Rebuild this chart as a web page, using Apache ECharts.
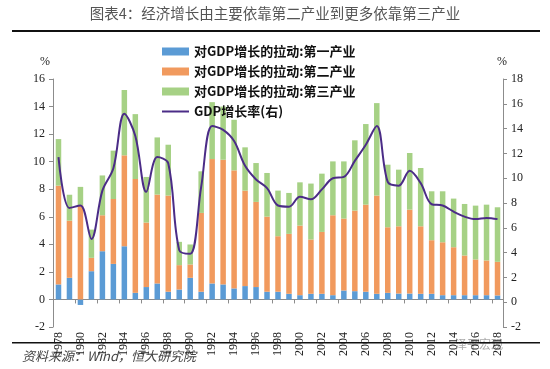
<!DOCTYPE html>
<html><head><meta charset="utf-8">
<script src="https://cdn.jsdelivr.net/npm/echarts@6/dist/echarts.min.js"></script>
<style>html,body{margin:0;padding:0;background:#fff}#c{width:550px;height:369px}</style>
</head><body><div id="c"></div>
<script>
const years = ['1978','1979','1980','1981','1982','1983','1984','1985','1986','1987','1988','1989','1990','1991','1992','1993','1994','1995','1996','1997','1998','1999','2000','2001','2002','2003','2004','2005','2006','2007','2008','2009','2010','2011','2012','2013','2014','2015','2016','2017','2018'];
const primary = [1.09,1.57,-0.4,2.05,3.5,2.58,3.86,0.48,0.9,1.16,0.56,0.72,1.57,0.56,1.16,1.09,0.8,0.97,0.9,0.56,0.56,0.41,0.31,0.41,0.41,0.31,0.65,0.6,0.56,0.41,0.48,0.43,0.43,0.41,0.41,0.31,0.31,0.31,0.31,0.31,0.29];
const secondary = [7.17,4.15,6.84,0.97,2.61,4.71,6.6,8.26,4.68,6.45,6.98,1.77,0.97,5.72,9.03,9.05,8.57,6.93,6.18,5.45,4.03,4.35,5.05,3.94,4.49,5.8,5.22,5.85,6.32,7.13,4.76,4.88,6.09,4.9,3.89,3.84,3.48,2.88,2.59,2.52,2.44];
const tertiary = [3.38,1.88,1.33,2.05,2.89,3.51,4.74,4.71,3.31,4.15,3.69,1.69,1.45,3.02,4.13,3.86,3.67,3.14,2.82,3.17,3.31,2.97,3.14,4.06,4.23,3.91,4.15,5.1,5.85,6.71,4.54,4.11,4.11,4.23,3.55,3.7,3.53,3.74,3.91,4.05,3.96];
const gdp = [11.7,7.6,7.8,5.1,9.0,10.8,15.2,13.4,8.9,11.7,11.2,4.2,3.9,9.3,14.2,13.9,13.0,11.0,9.9,9.2,7.8,7.7,8.5,8.3,9.1,10.0,10.1,11.4,12.7,14.2,9.7,9.4,10.6,9.6,7.9,7.8,7.3,6.9,6.7,6.8,6.7];
const names = ['对GDP增长的拉动:第一产业','对GDP增长的拉动:第二产业','对GDP增长的拉动:第三产业','GDP增长率(右)'];

const chart = echarts.init(document.getElementById('c'), null, {renderer:'canvas'});
const serif = 'Liberation Serif';
const axisColor = '#8c8c8c';
const barW = 5.5;
chart.setOption({
  animation:false,
  backgroundColor:'#fff',
  grid:{left:53,right:47,top:79,bottom:42},
  legend:{
    orient:'vertical', left:156, top:40, itemWidth:27, itemHeight:8, itemGap:7,
    textStyle:{fontFamily:'Noto Sans CJK SC', fontWeight:'bold', fontSize:13, color:'#111'},
    data:[{name:names[0],icon:'rect'},{name:names[1],icon:'rect'},{name:names[2],icon:'rect'},{name:names[3], itemStyle:{opacity:0}}]
  },
  xAxis:{
    type:'category', data:years, boundaryGap:true,
    axisLine:{onZero:true, lineStyle:{color:axisColor}},
    axisTick:{show:true, interval:1, length:4, lineStyle:{color:axisColor}},
    axisLabel:{interval:1, rotate:90, fontFamily:serif, fontSize:12, color:'#222', margin:5}
  },
  yAxis:[
    {type:'value', min:-2, max:16, interval:2, position:'left',
     axisLine:{show:true, lineStyle:{color:axisColor}}, axisTick:{show:true, length:4, lineStyle:{color:axisColor}},
     splitLine:{show:false}, axisLabel:{fontFamily:serif, fontSize:12, color:'#222', margin:8}},
    {type:'value', min:-2, max:18, interval:2, position:'right',
     axisLine:{show:true, lineStyle:{color:axisColor}}, axisTick:{show:true, length:4, lineStyle:{color:axisColor}},
     splitLine:{show:false}, axisLabel:{fontFamily:serif, fontSize:12, color:'#222', margin:8}}
  ],
  series:[
    {name:names[0], type:'bar', stack:'s', data:primary, barWidth:barW, itemStyle:{color:'#5B9BD5'}},
    {name:names[1], type:'bar', stack:'s', data:secondary, barWidth:barW, itemStyle:{color:'#F19A5E'}},
    {name:names[2], type:'bar', stack:'s', data:tertiary, barWidth:barW, itemStyle:{color:'#A6D185'}},
    {name:names[3], type:'line', yAxisIndex:1, data:gdp, smooth:0.35, symbol:'none', showSymbol:false, lineStyle:{color:'#4B2C87', width:2}, itemStyle:{color:'#4B2C87'}}
  ],
  graphic:{elements:[
    {type:'text', left:'center', top:6, style:{text:'图表4：经济增长由主要依靠第二产业到更多依靠第三产业', font:'14.5px "Noto Sans CJK SC"', fill:'#555'}},
    {type:'text', left:12, top:30, z:100, style:{text:' ', font:'1px sans-serif', width:528, height:2, lineHeight:2, backgroundColor:'#111'}},
    {type:'text', left:12, top:342, z:100, style:{text:' ', font:'1px sans-serif', width:528, height:1.5, lineHeight:1.5, backgroundColor:'#111'}},
    {type:'text', left:22, top:350, style:{text:'资料来源：Wind，恒大研究院', font:'italic 13px "Noto Sans CJK SC"', fill:'#444'}},
    {type:'text', left:455, top:338, style:{text:'泽平宏观', font:'12px "Noto Sans CJK SC"', fill:'#aaa'}},
    {type:'text', left:40, top:56, style:{text:'%', font:'12px "Liberation Serif"', fill:'#222'}},
    {type:'text', left:497, top:56, style:{text:'%', font:'12px "Liberation Serif"', fill:'#222'}}
  ]}
});
</script></body></html>
